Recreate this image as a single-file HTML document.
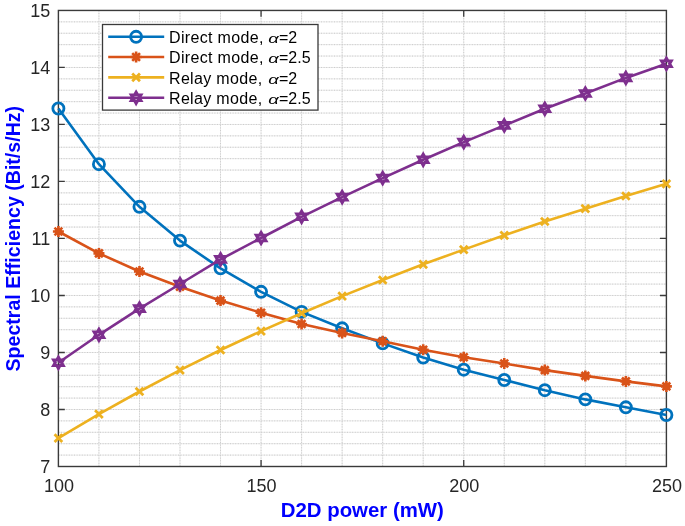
<!DOCTYPE html><html><head><meta charset="utf-8"><style>
html,body{margin:0;padding:0;background:#fff;}body{width:685px;height:526px;overflow:hidden;}
svg{display:block;filter:blur(0.3px);} text{font-family:"Liberation Sans",sans-serif;}
</style></head><body>
<svg width="685" height="526" viewBox="0 0 685 526">
<rect x="0" y="0" width="685" height="526" fill="#fff"/>
<path d="M58.4,21.85H666.4M58.4,33.25H666.4M58.4,44.65H666.4M58.4,56.06H666.4M58.4,67.46H666.4M58.4,78.86H666.4M58.4,90.26H666.4M58.4,101.66H666.4M58.4,113.06H666.4M58.4,124.46H666.4M58.4,135.86H666.4M58.4,147.26H666.4M58.4,158.67H666.4M58.4,170.07H666.4M58.4,181.47H666.4M58.4,192.87H666.4M58.4,204.27H666.4M58.4,215.67H666.4M58.4,227.07H666.4M58.4,238.47H666.4M58.4,249.88H666.4M58.4,261.28H666.4M58.4,272.68H666.4M58.4,284.08H666.4M58.4,295.48H666.4M58.4,306.88H666.4M58.4,318.28H666.4M58.4,329.69H666.4M58.4,341.09H666.4M58.4,352.49H666.4M58.4,363.89H666.4M58.4,375.29H666.4M58.4,386.69H666.4M58.4,398.09H666.4M58.4,409.49H666.4M58.4,420.89H666.4M58.4,432.30H666.4M58.4,443.70H666.4M58.4,455.10H666.4M98.93,10.45V466.5M139.47,10.45V466.5M180.00,10.45V466.5M220.53,10.45V466.5M261.07,10.45V466.5M301.60,10.45V466.5M342.13,10.45V466.5M382.67,10.45V466.5M423.20,10.45V466.5M463.73,10.45V466.5M504.27,10.45V466.5M544.80,10.45V466.5M585.33,10.45V466.5M625.87,10.45V466.5" stroke="#ebebeb" stroke-width="1" fill="none"/>
<path d="M58.4,21.85H666.4M58.4,33.25H666.4M58.4,44.65H666.4M58.4,56.06H666.4M58.4,67.46H666.4M58.4,78.86H666.4M58.4,90.26H666.4M58.4,101.66H666.4M58.4,113.06H666.4M58.4,124.46H666.4M58.4,135.86H666.4M58.4,147.26H666.4M58.4,158.67H666.4M58.4,170.07H666.4M58.4,181.47H666.4M58.4,192.87H666.4M58.4,204.27H666.4M58.4,215.67H666.4M58.4,227.07H666.4M58.4,238.47H666.4M58.4,249.88H666.4M58.4,261.28H666.4M58.4,272.68H666.4M58.4,284.08H666.4M58.4,295.48H666.4M58.4,306.88H666.4M58.4,318.28H666.4M58.4,329.69H666.4M58.4,341.09H666.4M58.4,352.49H666.4M58.4,363.89H666.4M58.4,375.29H666.4M58.4,386.69H666.4M58.4,398.09H666.4M58.4,409.49H666.4M58.4,420.89H666.4M58.4,432.30H666.4M58.4,443.70H666.4M58.4,455.10H666.4M98.93,10.45V466.5M139.47,10.45V466.5M180.00,10.45V466.5M220.53,10.45V466.5M261.07,10.45V466.5M301.60,10.45V466.5M342.13,10.45V466.5M382.67,10.45V466.5M423.20,10.45V466.5M463.73,10.45V466.5M504.27,10.45V466.5M544.80,10.45V466.5M585.33,10.45V466.5M625.87,10.45V466.5" stroke="#cbcbcb" stroke-width="1" stroke-dasharray="1 1.6" fill="none"/>
<path d="M58.4,409.49h6.4M666.4,409.49h-6.4M58.4,352.49h6.4M666.4,352.49h-6.4M58.4,295.48h6.4M666.4,295.48h-6.4M58.4,238.47h6.4M666.4,238.47h-6.4M58.4,181.47h6.4M666.4,181.47h-6.4M58.4,124.46h6.4M666.4,124.46h-6.4M58.4,67.46h6.4M666.4,67.46h-6.4M261.07,466.5v-6.4M261.07,10.45v6.4M463.73,466.5v-6.4M463.73,10.45v6.4" stroke="#3a3a3a" stroke-width="1.3" fill="none"/>
<rect x="58.4" y="10.45" width="608.0" height="456.05" fill="none" stroke="#3a3a3a" stroke-width="1.4"/>
<text x="50.2" y="473.1" font-size="18" fill="#262626" text-anchor="end">7</text>
<text x="50.2" y="416.1" font-size="18" fill="#262626" text-anchor="end">8</text>
<text x="50.2" y="359.1" font-size="18" fill="#262626" text-anchor="end">9</text>
<text x="50.2" y="302.1" font-size="18" fill="#262626" text-anchor="end">10</text>
<text x="50.2" y="245.1" font-size="18" fill="#262626" text-anchor="end">11</text>
<text x="50.2" y="188.1" font-size="18" fill="#262626" text-anchor="end">12</text>
<text x="50.2" y="131.1" font-size="18" fill="#262626" text-anchor="end">13</text>
<text x="50.2" y="74.1" font-size="18" fill="#262626" text-anchor="end">14</text>
<text x="50.2" y="17.0" font-size="18" fill="#262626" text-anchor="end">15</text>
<text x="58.9" y="492" font-size="18" fill="#262626" text-anchor="middle">100</text>
<text x="261.6" y="492" font-size="18" fill="#262626" text-anchor="middle">150</text>
<text x="464.2" y="492" font-size="18" fill="#262626" text-anchor="middle">200</text>
<text x="666.9" y="492" font-size="18" fill="#262626" text-anchor="middle">250</text>
<text x="362.3" y="517.3" font-size="20.4" font-weight="bold" fill="#0000ff" text-anchor="middle">D2D power (mW)</text>
<text transform="translate(19.7,238.7) rotate(-90)" x="0" y="0" font-size="19.6" font-weight="bold" fill="#0000ff" text-anchor="middle">Spectral Efficiency (Bit/s/Hz)</text>
<polyline points="58.40,108.50 98.93,164.20 139.47,206.80 180.00,240.60 220.53,268.40 261.07,291.80 301.60,311.90 342.13,328.30 382.67,343.40 423.20,357.60 463.73,369.70 504.27,380.00 544.80,390.20 585.33,399.40 625.87,407.30 666.40,415.00" fill="none" stroke="#0072BD" stroke-width="2.6" stroke-linejoin="round"/><circle cx="58.40" cy="108.50" r="5.55" fill="none" stroke="#0072BD" stroke-width="2.8"/><circle cx="98.93" cy="164.20" r="5.55" fill="none" stroke="#0072BD" stroke-width="2.8"/><circle cx="139.47" cy="206.80" r="5.55" fill="none" stroke="#0072BD" stroke-width="2.8"/><circle cx="180.00" cy="240.60" r="5.55" fill="none" stroke="#0072BD" stroke-width="2.8"/><circle cx="220.53" cy="268.40" r="5.55" fill="none" stroke="#0072BD" stroke-width="2.8"/><circle cx="261.07" cy="291.80" r="5.55" fill="none" stroke="#0072BD" stroke-width="2.8"/><circle cx="301.60" cy="311.90" r="5.55" fill="none" stroke="#0072BD" stroke-width="2.8"/><circle cx="342.13" cy="328.30" r="5.55" fill="none" stroke="#0072BD" stroke-width="2.8"/><circle cx="382.67" cy="343.40" r="5.55" fill="none" stroke="#0072BD" stroke-width="2.8"/><circle cx="423.20" cy="357.60" r="5.55" fill="none" stroke="#0072BD" stroke-width="2.8"/><circle cx="463.73" cy="369.70" r="5.55" fill="none" stroke="#0072BD" stroke-width="2.8"/><circle cx="504.27" cy="380.00" r="5.55" fill="none" stroke="#0072BD" stroke-width="2.8"/><circle cx="544.80" cy="390.20" r="5.55" fill="none" stroke="#0072BD" stroke-width="2.8"/><circle cx="585.33" cy="399.40" r="5.55" fill="none" stroke="#0072BD" stroke-width="2.8"/><circle cx="625.87" cy="407.30" r="5.55" fill="none" stroke="#0072BD" stroke-width="2.8"/><circle cx="666.40" cy="415.00" r="5.55" fill="none" stroke="#0072BD" stroke-width="2.8"/>
<polyline points="58.40,231.50 98.93,253.40 139.47,271.50 180.00,286.70 220.53,300.60 261.07,312.70 301.60,324.00 342.13,332.90 382.67,341.30 423.20,349.70 463.73,357.20 504.27,363.50 544.80,370.10 585.33,375.90 625.87,381.40 666.40,386.40" fill="none" stroke="#D95319" stroke-width="2.6" stroke-linejoin="round"/><path d="M52.90,231.50H63.90M58.40,226.00V237.00M54.51,227.61L62.29,235.39M54.51,235.39L62.29,227.61" stroke="#D95319" stroke-width="2.6" fill="none"/><circle cx="58.40" cy="231.50" r="3.6" fill="#D95319"/><path d="M93.43,253.40H104.43M98.93,247.90V258.90M95.04,249.51L102.82,257.29M95.04,257.29L102.82,249.51" stroke="#D95319" stroke-width="2.6" fill="none"/><circle cx="98.93" cy="253.40" r="3.6" fill="#D95319"/><path d="M133.97,271.50H144.97M139.47,266.00V277.00M135.58,267.61L143.36,275.39M135.58,275.39L143.36,267.61" stroke="#D95319" stroke-width="2.6" fill="none"/><circle cx="139.47" cy="271.50" r="3.6" fill="#D95319"/><path d="M174.50,286.70H185.50M180.00,281.20V292.20M176.11,282.81L183.89,290.59M176.11,290.59L183.89,282.81" stroke="#D95319" stroke-width="2.6" fill="none"/><circle cx="180.00" cy="286.70" r="3.6" fill="#D95319"/><path d="M215.03,300.60H226.03M220.53,295.10V306.10M216.64,296.71L224.42,304.49M216.64,304.49L224.42,296.71" stroke="#D95319" stroke-width="2.6" fill="none"/><circle cx="220.53" cy="300.60" r="3.6" fill="#D95319"/><path d="M255.57,312.70H266.57M261.07,307.20V318.20M257.18,308.81L264.96,316.59M257.18,316.59L264.96,308.81" stroke="#D95319" stroke-width="2.6" fill="none"/><circle cx="261.07" cy="312.70" r="3.6" fill="#D95319"/><path d="M296.10,324.00H307.10M301.60,318.50V329.50M297.71,320.11L305.49,327.89M297.71,327.89L305.49,320.11" stroke="#D95319" stroke-width="2.6" fill="none"/><circle cx="301.60" cy="324.00" r="3.6" fill="#D95319"/><path d="M336.63,332.90H347.63M342.13,327.40V338.40M338.24,329.01L346.02,336.79M338.24,336.79L346.02,329.01" stroke="#D95319" stroke-width="2.6" fill="none"/><circle cx="342.13" cy="332.90" r="3.6" fill="#D95319"/><path d="M377.17,341.30H388.17M382.67,335.80V346.80M378.78,337.41L386.56,345.19M378.78,345.19L386.56,337.41" stroke="#D95319" stroke-width="2.6" fill="none"/><circle cx="382.67" cy="341.30" r="3.6" fill="#D95319"/><path d="M417.70,349.70H428.70M423.20,344.20V355.20M419.31,345.81L427.09,353.59M419.31,353.59L427.09,345.81" stroke="#D95319" stroke-width="2.6" fill="none"/><circle cx="423.20" cy="349.70" r="3.6" fill="#D95319"/><path d="M458.23,357.20H469.23M463.73,351.70V362.70M459.84,353.31L467.62,361.09M459.84,361.09L467.62,353.31" stroke="#D95319" stroke-width="2.6" fill="none"/><circle cx="463.73" cy="357.20" r="3.6" fill="#D95319"/><path d="M498.77,363.50H509.77M504.27,358.00V369.00M500.38,359.61L508.16,367.39M500.38,367.39L508.16,359.61" stroke="#D95319" stroke-width="2.6" fill="none"/><circle cx="504.27" cy="363.50" r="3.6" fill="#D95319"/><path d="M539.30,370.10H550.30M544.80,364.60V375.60M540.91,366.21L548.69,373.99M540.91,373.99L548.69,366.21" stroke="#D95319" stroke-width="2.6" fill="none"/><circle cx="544.80" cy="370.10" r="3.6" fill="#D95319"/><path d="M579.83,375.90H590.83M585.33,370.40V381.40M581.44,372.01L589.22,379.79M581.44,379.79L589.22,372.01" stroke="#D95319" stroke-width="2.6" fill="none"/><circle cx="585.33" cy="375.90" r="3.6" fill="#D95319"/><path d="M620.37,381.40H631.37M625.87,375.90V386.90M621.98,377.51L629.76,385.29M621.98,385.29L629.76,377.51" stroke="#D95319" stroke-width="2.6" fill="none"/><circle cx="625.87" cy="381.40" r="3.6" fill="#D95319"/><path d="M660.90,386.40H671.90M666.40,380.90V391.90M662.51,382.51L670.29,390.29M662.51,390.29L670.29,382.51" stroke="#D95319" stroke-width="2.6" fill="none"/><circle cx="666.40" cy="386.40" r="3.6" fill="#D95319"/>
<polyline points="58.40,438.20 98.93,414.10 139.47,391.50 180.00,370.20 220.53,350.00 261.07,331.10 301.60,313.20 342.13,296.10 382.67,280.00 423.20,264.30 463.73,249.60 504.27,235.30 544.80,221.50 585.33,208.70 625.87,196.00 666.40,183.80" fill="none" stroke="#EDB120" stroke-width="2.6" stroke-linejoin="round"/><path d="M54.55,434.35L62.25,442.05M54.55,442.05L62.25,434.35" stroke="#EDB120" stroke-width="2.8" fill="none"/><path d="M95.08,410.25L102.78,417.95M95.08,417.95L102.78,410.25" stroke="#EDB120" stroke-width="2.8" fill="none"/><path d="M135.62,387.65L143.32,395.35M135.62,395.35L143.32,387.65" stroke="#EDB120" stroke-width="2.8" fill="none"/><path d="M176.15,366.35L183.85,374.05M176.15,374.05L183.85,366.35" stroke="#EDB120" stroke-width="2.8" fill="none"/><path d="M216.68,346.15L224.38,353.85M216.68,353.85L224.38,346.15" stroke="#EDB120" stroke-width="2.8" fill="none"/><path d="M257.22,327.25L264.92,334.95M257.22,334.95L264.92,327.25" stroke="#EDB120" stroke-width="2.8" fill="none"/><path d="M297.75,309.35L305.45,317.05M297.75,317.05L305.45,309.35" stroke="#EDB120" stroke-width="2.8" fill="none"/><path d="M338.28,292.25L345.98,299.95M338.28,299.95L345.98,292.25" stroke="#EDB120" stroke-width="2.8" fill="none"/><path d="M378.82,276.15L386.52,283.85M378.82,283.85L386.52,276.15" stroke="#EDB120" stroke-width="2.8" fill="none"/><path d="M419.35,260.45L427.05,268.15M419.35,268.15L427.05,260.45" stroke="#EDB120" stroke-width="2.8" fill="none"/><path d="M459.88,245.75L467.58,253.45M459.88,253.45L467.58,245.75" stroke="#EDB120" stroke-width="2.8" fill="none"/><path d="M500.42,231.45L508.12,239.15M500.42,239.15L508.12,231.45" stroke="#EDB120" stroke-width="2.8" fill="none"/><path d="M540.95,217.65L548.65,225.35M540.95,225.35L548.65,217.65" stroke="#EDB120" stroke-width="2.8" fill="none"/><path d="M581.48,204.85L589.18,212.55M581.48,212.55L589.18,204.85" stroke="#EDB120" stroke-width="2.8" fill="none"/><path d="M622.02,192.15L629.72,199.85M622.02,199.85L629.72,192.15" stroke="#EDB120" stroke-width="2.8" fill="none"/><path d="M662.55,179.95L670.25,187.65M662.55,187.65L670.25,179.95" stroke="#EDB120" stroke-width="2.8" fill="none"/>
<polyline points="58.40,362.80 98.93,334.80 139.47,308.60 180.00,284.00 220.53,259.40 261.07,238.00 301.60,216.80 342.13,197.10 382.67,178.10 423.20,159.80 463.73,142.10 504.27,125.40 544.80,108.80 585.33,93.50 625.87,77.90 666.40,63.80" fill="none" stroke="#7E2F8E" stroke-width="2.6" stroke-linejoin="round"/><polygon points="58.40,357.30 59.99,360.05 63.16,360.05 61.58,362.80 63.16,365.55 59.99,365.55 58.40,368.30 56.81,365.55 53.64,365.55 55.22,362.80 53.64,360.05 56.81,360.05" fill="none" stroke="#7E2F8E" stroke-width="3.1" stroke-linejoin="miter" stroke-miterlimit="10"/><polygon points="98.93,329.30 100.52,332.05 103.70,332.05 102.11,334.80 103.70,337.55 100.52,337.55 98.93,340.30 97.35,337.55 94.17,337.55 95.76,334.80 94.17,332.05 97.35,332.05" fill="none" stroke="#7E2F8E" stroke-width="3.1" stroke-linejoin="miter" stroke-miterlimit="10"/><polygon points="139.47,303.10 141.05,305.85 144.23,305.85 142.64,308.60 144.23,311.35 141.05,311.35 139.47,314.10 137.88,311.35 134.70,311.35 136.29,308.60 134.70,305.85 137.88,305.85" fill="none" stroke="#7E2F8E" stroke-width="3.1" stroke-linejoin="miter" stroke-miterlimit="10"/><polygon points="180.00,278.50 181.59,281.25 184.76,281.25 183.18,284.00 184.76,286.75 181.59,286.75 180.00,289.50 178.41,286.75 175.24,286.75 176.82,284.00 175.24,281.25 178.41,281.25" fill="none" stroke="#7E2F8E" stroke-width="3.1" stroke-linejoin="miter" stroke-miterlimit="10"/><polygon points="220.53,253.90 222.12,256.65 225.30,256.65 223.71,259.40 225.30,262.15 222.12,262.15 220.53,264.90 218.95,262.15 215.77,262.15 217.36,259.40 215.77,256.65 218.95,256.65" fill="none" stroke="#7E2F8E" stroke-width="3.1" stroke-linejoin="miter" stroke-miterlimit="10"/><polygon points="261.07,232.50 262.65,235.25 265.83,235.25 264.24,238.00 265.83,240.75 262.65,240.75 261.07,243.50 259.48,240.75 256.30,240.75 257.89,238.00 256.30,235.25 259.48,235.25" fill="none" stroke="#7E2F8E" stroke-width="3.1" stroke-linejoin="miter" stroke-miterlimit="10"/><polygon points="301.60,211.30 303.19,214.05 306.36,214.05 304.78,216.80 306.36,219.55 303.19,219.55 301.60,222.30 300.01,219.55 296.84,219.55 298.42,216.80 296.84,214.05 300.01,214.05" fill="none" stroke="#7E2F8E" stroke-width="3.1" stroke-linejoin="miter" stroke-miterlimit="10"/><polygon points="342.13,191.60 343.72,194.35 346.90,194.35 345.31,197.10 346.90,199.85 343.72,199.85 342.13,202.60 340.55,199.85 337.37,199.85 338.96,197.10 337.37,194.35 340.55,194.35" fill="none" stroke="#7E2F8E" stroke-width="3.1" stroke-linejoin="miter" stroke-miterlimit="10"/><polygon points="382.67,172.60 384.25,175.35 387.43,175.35 385.84,178.10 387.43,180.85 384.25,180.85 382.67,183.60 381.08,180.85 377.90,180.85 379.49,178.10 377.90,175.35 381.08,175.35" fill="none" stroke="#7E2F8E" stroke-width="3.1" stroke-linejoin="miter" stroke-miterlimit="10"/><polygon points="423.20,154.30 424.79,157.05 427.96,157.05 426.38,159.80 427.96,162.55 424.79,162.55 423.20,165.30 421.61,162.55 418.44,162.55 420.02,159.80 418.44,157.05 421.61,157.05" fill="none" stroke="#7E2F8E" stroke-width="3.1" stroke-linejoin="miter" stroke-miterlimit="10"/><polygon points="463.73,136.60 465.32,139.35 468.50,139.35 466.91,142.10 468.50,144.85 465.32,144.85 463.73,147.60 462.15,144.85 458.97,144.85 460.56,142.10 458.97,139.35 462.15,139.35" fill="none" stroke="#7E2F8E" stroke-width="3.1" stroke-linejoin="miter" stroke-miterlimit="10"/><polygon points="504.27,119.90 505.85,122.65 509.03,122.65 507.44,125.40 509.03,128.15 505.85,128.15 504.27,130.90 502.68,128.15 499.50,128.15 501.09,125.40 499.50,122.65 502.68,122.65" fill="none" stroke="#7E2F8E" stroke-width="3.1" stroke-linejoin="miter" stroke-miterlimit="10"/><polygon points="544.80,103.30 546.39,106.05 549.56,106.05 547.98,108.80 549.56,111.55 546.39,111.55 544.80,114.30 543.21,111.55 540.04,111.55 541.62,108.80 540.04,106.05 543.21,106.05" fill="none" stroke="#7E2F8E" stroke-width="3.1" stroke-linejoin="miter" stroke-miterlimit="10"/><polygon points="585.33,88.00 586.92,90.75 590.10,90.75 588.51,93.50 590.10,96.25 586.92,96.25 585.33,99.00 583.75,96.25 580.57,96.25 582.16,93.50 580.57,90.75 583.75,90.75" fill="none" stroke="#7E2F8E" stroke-width="3.1" stroke-linejoin="miter" stroke-miterlimit="10"/><polygon points="625.87,72.40 627.45,75.15 630.63,75.15 629.04,77.90 630.63,80.65 627.45,80.65 625.87,83.40 624.28,80.65 621.10,80.65 622.69,77.90 621.10,75.15 624.28,75.15" fill="none" stroke="#7E2F8E" stroke-width="3.1" stroke-linejoin="miter" stroke-miterlimit="10"/><polygon points="666.40,58.30 667.99,61.05 671.16,61.05 669.58,63.80 671.16,66.55 667.99,66.55 666.40,69.30 664.81,66.55 661.64,66.55 663.22,63.80 661.64,61.05 664.81,61.05" fill="none" stroke="#7E2F8E" stroke-width="3.1" stroke-linejoin="miter" stroke-miterlimit="10"/>
<rect x="102.5" y="24.5" width="215.5" height="85.6" fill="#fff" stroke="#3a3a3a" stroke-width="1.3"/>
<path d="M108.2,36.8H164.2" stroke="#0072BD" stroke-width="2.6"/>
<circle cx="136.10" cy="36.80" r="5.55" fill="none" stroke="#0072BD" stroke-width="2.8"/>
<text x="169.0" y="43.1" font-size="16" letter-spacing="0.33" fill="#000">Direct mode,</text>
<text transform="translate(268.3,43.1) scale(1.15,0.82)" x="0" y="0" font-size="16" font-family="Liberation Serif" font-style="italic" fill="#000">α</text>
<text x="279.0" y="43.1" font-size="16" letter-spacing="0.0" fill="#000">=2</text>
<path d="M108.2,57.0H164.2" stroke="#D95319" stroke-width="2.6"/>
<path d="M130.60,57.00H141.60M136.10,51.50V62.50M132.21,53.11L139.99,60.89M132.21,60.89L139.99,53.11" stroke="#D95319" stroke-width="2.6" fill="none"/><circle cx="136.10" cy="57.00" r="3.6" fill="#D95319"/>
<text x="169.0" y="63.3" font-size="16" letter-spacing="0.33" fill="#000">Direct mode,</text>
<text transform="translate(268.3,63.3) scale(1.15,0.82)" x="0" y="0" font-size="16" font-family="Liberation Serif" font-style="italic" fill="#000">α</text>
<text x="279.0" y="63.3" font-size="16" letter-spacing="0.0" fill="#000">=2.5</text>
<path d="M108.2,77.4H164.2" stroke="#EDB120" stroke-width="2.6"/>
<path d="M132.25,73.55L139.95,81.25M132.25,81.25L139.95,73.55" stroke="#EDB120" stroke-width="2.8" fill="none"/>
<text x="169.0" y="83.7" font-size="16" letter-spacing="0.33" fill="#000">Relay mode,</text>
<text transform="translate(268.3,83.7) scale(1.15,0.82)" x="0" y="0" font-size="16" font-family="Liberation Serif" font-style="italic" fill="#000">α</text>
<text x="279.0" y="83.7" font-size="16" letter-spacing="0.0" fill="#000">=2</text>
<path d="M108.2,97.8H164.2" stroke="#7E2F8E" stroke-width="2.6"/>
<polygon points="136.10,92.30 137.69,95.05 140.86,95.05 139.28,97.80 140.86,100.55 137.69,100.55 136.10,103.30 134.51,100.55 131.34,100.55 132.92,97.80 131.34,95.05 134.51,95.05" fill="none" stroke="#7E2F8E" stroke-width="3.1" stroke-linejoin="miter" stroke-miterlimit="10"/>
<text x="169.0" y="104.1" font-size="16" letter-spacing="0.33" fill="#000">Relay mode,</text>
<text transform="translate(268.3,104.1) scale(1.15,0.82)" x="0" y="0" font-size="16" font-family="Liberation Serif" font-style="italic" fill="#000">α</text>
<text x="279.0" y="104.1" font-size="16" letter-spacing="0.0" fill="#000">=2.5</text>
</svg></body></html>
